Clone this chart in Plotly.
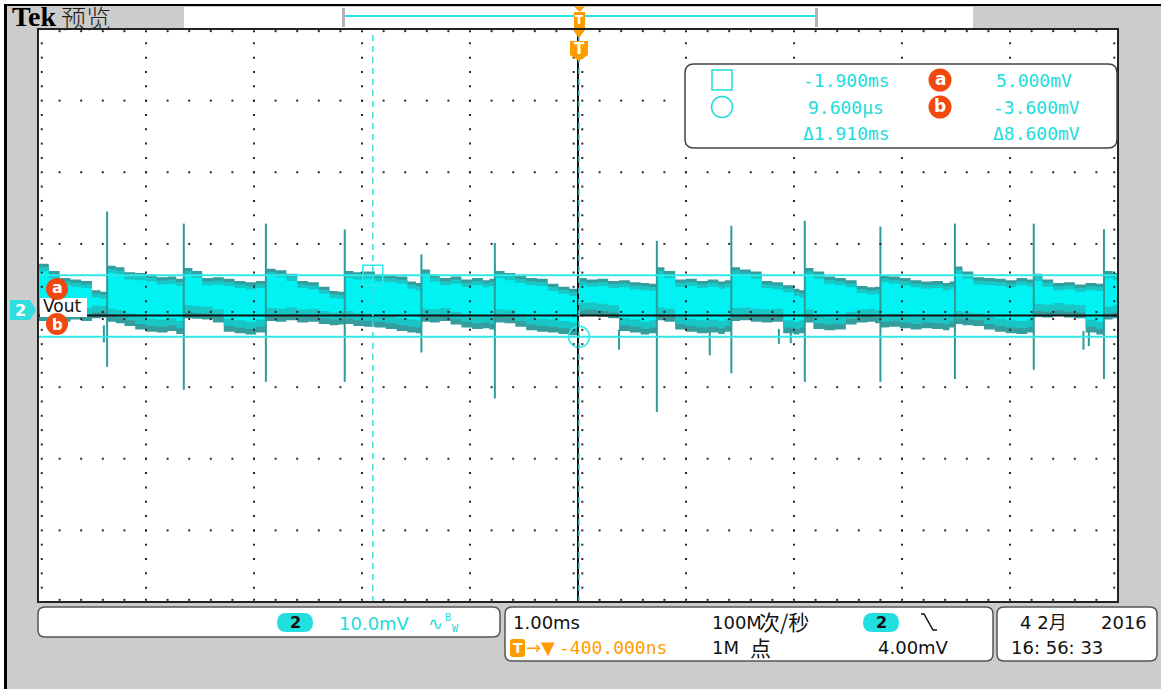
import numpy as np
import plotly.graph_objects as go

# ---------------- data ----------------
# noise band envelope of channel 2 (time in ms, voltage in mV)
ENV_T = [-5.0, -4.9, -4.8, -4.7, -4.6, -4.5, -4.42,
         -4.36, -4.28, -4.2, -4.1, -4.0, -3.9, -3.8, -3.72,
         -3.65, -3.57, -3.48, -3.38, -3.28, -3.18, -3.08, -2.98,
         -2.89, -2.8, -2.7, -2.6, -2.5, -2.4, -2.3, -2.22,
         -2.16, -2.08, -1.98, -1.88, -1.78, -1.68, -1.58, -1.5,
         -1.45, -1.37, -1.28, -1.18, -1.08, -0.98, -0.88, -0.82,
         -0.77, -0.68, -0.58, -0.48, -0.38, -0.28, -0.18, -0.08,
         0.0, 0.08, 0.18, 0.28, 0.38, 0.48, 0.58, 0.66,
         0.73, 0.8, 0.9, 1.0, 1.1, 1.2, 1.3, 1.36,
         1.42, 1.5, 1.6, 1.7, 1.8, 1.9, 2.0, 2.05,
         2.10, 2.18, 2.28, 2.38, 2.48, 2.58, 2.68, 2.75,
         2.80, 2.88, 2.98, 3.08, 3.18, 3.28, 3.38, 3.44,
         3.49, 3.56, 3.66, 3.76, 3.86, 3.96, 4.06, 4.16,
         4.22, 4.3, 4.4, 4.5, 4.6, 4.7, 4.8,
         4.87, 4.95, 5.0]
ENV_HI = [6.6, 5.6, 4.6, 4.4, 4.2, 2.9, 2.7,
          6.3, 6.1, 5.4, 5.3, 5.1, 4.7, 4.8, 4.5,
          6.0, 5.6, 4.6, 4.7, 4.5, 4.2, 4.0, 4.2,
          5.9, 5.7, 5.2, 4.2, 4.0, 3.4, 2.8, 2.7,
          5.6, 5.4, 5.5, 5.1, 5.0, 4.8, 4.1, 3.9,
          5.8, 5.1, 4.6, 4.8, 4.4, 4.6, 4.3, 4.5,
          5.6, 5.3, 4.9, 4.6, 4.5, 3.8, 3.4, 3.1,
          4.6, 4.4, 4.5, 4.2, 4.3, 4.0, 3.9, 3.8,
          6.1, 5.6, 4.4, 4.5, 4.2, 4.4, 4.1, 4.3,
          6.1, 5.8, 5.5, 4.2, 4.0, 3.6, 3.1, 2.9,
          6.0, 5.5, 4.8, 4.6, 4.3, 3.5, 3.3, 3.4,
          5.0, 4.8, 4.6, 4.3, 4.1, 4.2, 3.9, 4.1,
          6.2, 5.5, 4.7, 4.6, 4.5, 4.3, 4.6, 4.4,
          5.2, 4.4, 3.9, 4.0, 3.7, 3.9, 3.8,
          5.6, 5.3, 5.3]
ENV_LO = [-1.4, -1.3, -1.5, -1.2, -1.4, -1.0, -0.9,
          -1.5, -1.7, -2.1, -2.6, -2.9, -3.0, -2.8, -3.2,
          -1.0, -1.1, -1.2, -1.6, -2.9, -3.1, -3.3, -3.0,
          -1.4, -1.5, -1.3, -1.6, -1.5, -1.8, -2.0, -1.9,
          -1.8, -2.1, -2.2, -2.3, -2.5, -2.8, -3.0, -3.1,
          -1.5, -1.6, -1.4, -1.9, -2.3, -2.5, -2.4, -2.6,
          -1.6, -1.7, -2.2, -2.7, -2.9, -3.0, -3.2, -3.4,
          -0.7, -0.6, -0.8, -1.0, -2.8, -3.0, -3.3, -3.1,
          -1.3, -1.5, -2.6, -2.9, -3.1, -3.0, -3.2, -2.9,
          -1.4, -1.3, -1.5, -1.6, -1.5, -3.1, -3.3, -3.1,
          -1.6, -2.5, -2.7, -2.6, -1.9, -1.6, -1.5, -1.7,
          -2.3, -2.2, -2.4, -2.6, -2.4, -2.5, -2.7, -2.3,
          -1.8, -2.0, -2.1, -2.6, -2.9, -3.1, -3.2, -3.0,
          -0.8, -0.9, -0.7, -0.9, -1.0, -3.0, -3.3,
          -1.2, -1.0, -1.0]

# switching spikes
SPIKE_T = [-4.36, -3.65, -2.89, -2.16, -1.45, -0.77, 0.73, 1.42, 2.10, 2.80, 3.49, 4.22, 4.87]
SPIKE_TOP = [13.9, 12.2, 12.2, 11.4, 7.9, 9.5, 9.8, 11.9, 12.6, 11.8, 12.2, 12.2, 11.4]
SPIKE_BOT = [-7.8, -11.0, -9.9, -9.9, -5.8, -12.2, -14.1, -8.7, -9.9, -9.9, -9.5, -8.2, -9.5]
# short negative glitches
DIP_T = [-4.39, 0.38, 1.22, 1.86, 1.97, 4.68, 4.73]
DIP_TOP = [-2.0, -2.6, -2.8, -2.5, -2.6, -2.8, -2.9]
DIP_BOT = [-4.4, -5.4, -6.2, -4.6, -4.5, -5.4, -4.9]

# cursors
CUR_T = [-1.900, 0.0096]      # ms
CUR_V = [5.000, -3.600]       # mV

# scope settings / labels
VOLT_DIV = 10.0               # mV / div
TIME_DIV = 1.00               # ms / div
CENTER_MV = -0.63             # screen centre (ch2 ground slightly above)
SCALE_TXT = "10.0mV"
TIME_TXT = "1.00ms"
TRIG_POS_TXT = "-400.000ns"
RATE_NUM = "100M"
RATE_UNIT = "次/秒"
REC_NUM = "1M"
REC_UNIT = "点"
TRIG_LEVEL_TXT = "4.00mV"
DATE_TXT = "4 2月"
YEAR_TXT = "2016"
TIME_OF_DAY = "16: 56: 33"
CH_LABEL = "Vout"

# ---------------- geometry helpers (pixel -> paper) ----------------
W, H = 1161, 689
L, R, T, B = 38, 1118, 29, 602
NDX, NDY, NSUB = 10, 8, 5


def PX(x):
    return (x - L) / (R - L)


def PY(y):
    return (B - y) / (B - T)


XR = [-NDX / 2 * TIME_DIV, NDX / 2 * TIME_DIV]
YR = [CENTER_MV - NDY / 2 * VOLT_DIV, CENTER_MV + NDY / 2 * VOLT_DIV]

CYAN = '#2fe9e9'
CYAN_TXT = '#22dcdc'
ORANGE = '#ff9c00'
REDC = '#f0480f'
MONO = "DejaVu Sans Mono, Noto Sans CJK SC, sans-serif"
SANS = "DejaVu Sans, Noto Sans CJK SC, sans-serif"

fig = go.Figure()

# ---------------- waveform band ----------------
t = np.array(ENV_T)
hi = np.array(ENV_HI)
lo = np.array(ENV_LO)
mid = (hi + lo) / 2
layers = [
    (hi, lo, '#349d9d'),
    (np.maximum(hi - 0.45, mid + 0.3), np.minimum(lo + 0.8, mid - 0.3), '#18c6c6'),
    (np.maximum(hi - 1.0, mid + 0.2), np.minimum(lo + 1.8, mid - 0.2), '#00f2f2'),
]
for h_, l_, col in layers:
    fig.add_trace(go.Scatter(x=t, y=l_, mode='lines', line=dict(width=0, shape='hv', color=col),
                             hoverinfo='skip', showlegend=False))
    fig.add_trace(go.Scatter(x=t, y=h_, mode='lines', line=dict(width=0, shape='hv', color=col),
                             fill='tonexty', fillcolor=col, hoverinfo='skip', showlegend=False))

# spikes
sx, sy = [], []
for tt, a, b in zip(SPIKE_T, SPIKE_TOP, SPIKE_BOT):
    sx += [tt, tt, None]
    sy += [a, b, None]
for tt, a, b in zip(DIP_T, DIP_TOP, DIP_BOT):
    sx += [tt, tt, None]
    sy += [a, b, None]
fig.add_trace(go.Scatter(x=sx, y=sy, mode='lines', line=dict(color='#2e9a9a', width=2),
                         hoverinfo='skip', showlegend=False))

# ---------------- graticule dots ----------------
gx, gy = [], []
dx, dy = TIME_DIV / NSUB, VOLT_DIV / NSUB
for k in range(1, NDX):
    if k == NDX // 2:
        continue
    xv = XR[0] + k * TIME_DIV
    for j in range(1, NDY * NSUB):
        gx.append(xv); gy.append(YR[0] + j * dy)
for k in range(1, NDY):
    if k == NDY // 2:
        continue
    yv = YR[0] + k * VOLT_DIV
    for i in range(1, NDX * NSUB):
        gx.append(XR[0] + i * dx); gy.append(yv)
# edge ticks
ex_in = 0.035 * TIME_DIV
ey_in = 0.3
for j in range(1, NDY * NSUB):
    yv = YR[0] + j * dy
    gx += [XR[0] + ex_in, XR[1] - ex_in]; gy += [yv, yv]
for i in range(1, NDX * NSUB):
    xv = XR[0] + i * dx
    gx += [xv, xv]; gy += [YR[0] + ey_in, YR[1] - ey_in]
# centre cross ticks
for j in range(1, NDY * NSUB):
    yv = YR[0] + j * dy
    gx += [-0.04, 0.04]; gy += [yv, yv]
for i in range(1, NDX * NSUB):
    xv = XR[0] + i * dx
    gx += [xv, xv]; gy += [CENTER_MV + 0.5, CENTER_MV - 0.5]
fig.add_trace(go.Scatter(x=gx, y=gy, mode='markers',
                         marker=dict(symbol='square', size=2, color='#2a2a2a', line=dict(width=0)),
                         hoverinfo='skip', showlegend=False))

# cursor position markers
fig.add_trace(go.Scatter(x=[CUR_T[0]], y=[CUR_V[0]], mode='markers',
                         marker=dict(symbol='square-open', size=20, color=CYAN, line=dict(width=1.5)),
                         hoverinfo='skip', showlegend=False))
fig.add_trace(go.Scatter(x=[CUR_T[1]], y=[CUR_V[1]], mode='markers',
                         marker=dict(symbol='circle-open', size=21, color=CYAN, line=dict(width=1.5)),
                         hoverinfo='skip', showlegend=False))

shapes = []
annotations = []


def rect(x0, y0, x1, y1, fill='rgba(0,0,0,0)', line='rgba(0,0,0,0)', lw=0):
    shapes.append(dict(type='rect', xref='paper', yref='paper', x0=PX(x0), x1=PX(x1),
                       y0=PY(y1), y1=PY(y0), fillcolor=fill, line=dict(color=line, width=lw),
                       layer='above'))


def rrect(x0, y0, x1, y1, r, fill, line='rgba(0,0,0,0)', lw=0):
    p = (f"M {PX(x0 + r)},{PY(y0)} L {PX(x1 - r)},{PY(y0)} Q {PX(x1)},{PY(y0)} {PX(x1)},{PY(y0 + r)} "
         f"L {PX(x1)},{PY(y1 - r)} Q {PX(x1)},{PY(y1)} {PX(x1 - r)},{PY(y1)} "
         f"L {PX(x0 + r)},{PY(y1)} Q {PX(x0)},{PY(y1)} {PX(x0)},{PY(y1 - r)} "
         f"L {PX(x0)},{PY(y0 + r)} Q {PX(x0)},{PY(y0)} {PX(x0 + r)},{PY(y0)} Z")
    shapes.append(dict(type='path', xref='paper', yref='paper', path=p, fillcolor=fill,
                       line=dict(color=line, width=lw), layer='above'))


def poly(pts, fill, line='rgba(0,0,0,0)', lw=0, close=True):
    p = "M " + " L ".join(f"{PX(x)},{PY(y)}" for x, y in pts) + (" Z" if close else "")
    shapes.append(dict(type='path', xref='paper', yref='paper', path=p, fillcolor=fill,
                       line=dict(color=line, width=lw), layer='above'))


def circ(cx, cy, r, fill='rgba(0,0,0,0)', line='rgba(0,0,0,0)', lw=0):
    shapes.append(dict(type='circle', xref='paper', yref='paper', x0=PX(cx - r), x1=PX(cx + r),
                       y0=PY(cy + r), y1=PY(cy - r), fillcolor=fill,
                       line=dict(color=line, width=lw), layer='above'))


def hline(x0, x1, y, color, lw):
    shapes.append(dict(type='line', xref='paper', yref='paper', x0=PX(x0), x1=PX(x1),
                       y0=PY(y), y1=PY(y), line=dict(color=color, width=lw), layer='above'))


def vline(x, y0, y1, color, lw):
    shapes.append(dict(type='line', xref='paper', yref='paper', x0=PX(x), x1=PX(x),
                       y0=PY(y0), y1=PY(y1), line=dict(color=color, width=lw), layer='above'))


def text(s, x, y, size, color, anchor='left', family=MONO, weight=None):
    f = dict(size=size, color=color, family=family)
    if weight:
        f['weight'] = weight
    annotations.append(dict(text=s, x=PX(x), y=PY(y), xref='paper', yref='paper',
                            xanchor=anchor, yanchor='middle', showarrow=False, font=f))


# centre lines (solid black)
shapes.append(dict(type='line', xref='x', yref='paper', x0=0, x1=0, y0=0, y1=1,
                   line=dict(color='#111', width=2), layer='above'))
shapes.append(dict(type='line', xref='paper', yref='y', x0=0, x1=1, y0=CENTER_MV, y1=CENTER_MV,
                   line=dict(color='#111', width=2), layer='above'))
# cursors
for v in CUR_V:
    shapes.append(dict(type='line', xref='paper', yref='y', x0=0, x1=1, y0=v, y1=v,
                       line=dict(color=CYAN, width=2), layer='above'))
for tc in CUR_T:
    shapes.append(dict(type='line', xref='x', yref='paper', x0=tc, x1=tc, y0=0, y1=1,
                       line=dict(color='#3ddede', width=1.5, dash='6px,5px'), layer='above'))

# plot border
rect(L, T, R, B, line='#222', lw=2)

# outer frame
rect(0, 0, 4, H, fill='white')
rect(0, 0, W, 4, fill='white')
rect(4, 4, 7, H, fill='black')
rect(4, 4, W, 6, fill='black')

# top strip
rect(184, 7, 973, 28, fill='white')
vline(343.5, 8, 27, '#b4b4b4', 3)
vline(816.5, 8, 27, '#b4b4b4', 3)
hline(345, 815, 16, '#22e6e6', 2)
poly([(574, 6.5), (585, 6.5), (579.5, 12)], ORANGE)
rect(574, 12, 585, 28, fill=ORANGE)
text("T", 579.5, 20, 12, 'white', anchor='center', family="DejaVu Sans", weight='bold')
text("Tek", 10, 17, 28, 'black', family="Liberation Serif", weight='bold')
text("预览", 59, 17, 25, '#222', family="Noto Sans CJK SC", weight=300)

# trigger marker below the top border
poly([(573, 30), (585, 30), (579, 38)], ORANGE)
poly([(570, 41), (588, 41), (588, 55), (579, 61), (570, 55)], ORANGE)
text("T", 579, 49, 15, 'white', anchor='center', family="DejaVu Sans", weight='bold')

# channel marker and label
poly([(10, 300), (30, 300), (36, 310), (30, 320), (10, 320)], '#2fdede')
text("2", 20, 310, 16, 'white', anchor='center', family="DejaVu Sans", weight='bold')
rect(40, 298, 87, 317, fill='white')
text(CH_LABEL, 41, 306, 17, '#111', family="DejaVu Sans")
circ(57, 289, 11, fill=REDC)
text("a", 57, 287, 16, 'white', anchor='center', family="DejaVu Sans", weight='bold')
circ(57, 324, 11, fill=REDC)
text("b", 57, 325, 15, 'white', anchor='center', family="DejaVu Sans", weight='bold')

# cursor readout box
rrect(685, 64, 1117, 148, 9, 'white', '#444', 1.5)
rect(712, 70, 732, 90, line=CYAN_TXT, lw=1.5)
circ(722, 107, 10.5, line=CYAN_TXT, lw=1.5)
text(f"{CUR_T[0]:.3f}ms", 846, 80, 18, CYAN_TXT, anchor='center')
text(f"{CUR_T[1] * 1000:.3f}µs", 846, 107, 18, CYAN_TXT, anchor='center')
text(f"Δ{CUR_T[1] - CUR_T[0]:.3f}ms", 846, 133, 18, CYAN_TXT, anchor='center')
circ(940, 80, 11.5, fill=REDC)
text("a", 940, 79, 17, 'white', anchor='center', family="DejaVu Sans", weight='bold')
circ(940, 107, 11.5, fill=REDC)
text("b", 940, 106, 17, 'white', anchor='center', family="DejaVu Sans", weight='bold')
text(f"{CUR_V[0]:.3f}mV", 1034, 80, 18, CYAN_TXT, anchor='center')
text(f"{CUR_V[1]:.3f}mV", 1036, 107, 18, CYAN_TXT, anchor='center')
text(f"Δ{CUR_V[0] - CUR_V[1]:.3f}mV", 1036, 133, 18, CYAN_TXT, anchor='center')

# bottom status boxes
rrect(38, 607, 500, 637, 7, 'white', '#555', 1.5)
rrect(277, 613, 313, 632, 9.5, '#22dede')
text("2", 295, 622, 16, '#111', anchor='center', family="DejaVu Sans", weight='bold')
text(SCALE_TXT, 337, 623, 18, CYAN_TXT, family=SANS)
text("∿", 426, 623, 18, CYAN_TXT)
text("B", 443, 617, 10, CYAN_TXT)
text("W", 450, 628, 10, CYAN_TXT)

rrect(505, 607, 993, 661, 7, 'white', '#555', 1.5)
text(TIME_TXT, 511, 622, 18, '#111', family=SANS)
rrect(510, 639, 525, 657, 3, ORANGE)
text("T", 517.5, 648, 14, 'white', anchor='center', family="DejaVu Sans", weight='bold')
text("→▼", 524, 648, 18, ORANGE, family=SANS)
text(TRIG_POS_TXT, 669, 648, 18, ORANGE, anchor='right')
text(RATE_NUM, 710, 622, 18, '#111', family=SANS)
text(RATE_UNIT, 757, 621, 21, '#111', family="Noto Sans CJK SC")
text(REC_NUM, 710, 648, 18, '#111', family=SANS)
text(REC_UNIT, 748, 647, 21, '#111', family="Noto Sans CJK SC")
rrect(863, 613, 899, 632, 9.5, '#22dede')
text("2", 881, 622, 16, '#111', anchor='center', family="DejaVu Sans", weight='bold')
poly([(921, 614), (924, 614), (933, 630), (937, 630)], 'rgba(0,0,0,0)', '#111', 1.5, close=False)
text(TRIG_LEVEL_TXT, 951, 648, 18, '#111', anchor='right', family=SANS)

rrect(997, 607, 1157, 661, 7, 'white', '#555', 1.5)
text(DATE_TXT, 1018, 622, 18, '#111', family=SANS)
text(YEAR_TXT, 1149, 622, 18, '#111', anchor='right', family=SANS)
text(TIME_OF_DAY, 1009, 648, 18, '#111', family=SANS)

fig.update_layout(
    width=W, height=H,
    margin=dict(l=L, r=W - R, t=T, b=H - B, pad=0),
    paper_bgcolor='#cccccc', plot_bgcolor='white',
    xaxis=dict(range=XR, visible=False, fixedrange=True),
    yaxis=dict(range=YR, visible=False, fixedrange=True),
    shapes=shapes, annotations=annotations,
    showlegend=False,
)

fig.write_html("out.html", config={'displayModeBar': False},
               post_script="document.body.style.margin='0';document.body.style.overflow='hidden';")
